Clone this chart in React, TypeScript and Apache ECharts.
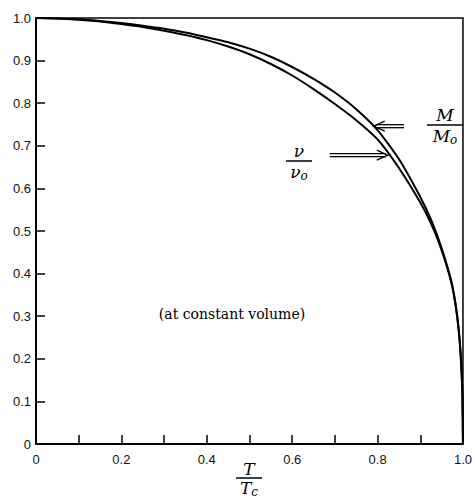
import React, { useEffect, useRef } from "react";
import * as echarts from "echarts";

const tempRatio = [0, 0.05, 0.1, 0.15, 0.2, 0.25, 0.3, 0.35, 0.4, 0.45, 0.5, 0.55, 0.6, 0.65, 0.7, 0.75, 0.8, 0.85, 0.9, 0.925, 0.95, 0.975, 0.99, 0.998, 1.0];
const magnetization = [1.0, 0.999, 0.997, 0.993, 0.988, 0.982, 0.975, 0.966, 0.955, 0.943, 0.928, 0.909, 0.885, 0.857, 0.825, 0.786, 0.737, 0.669, 0.58, 0.527, 0.46, 0.372, 0.27, 0.14, 0];
const frequency = [1.0, 0.999, 0.996, 0.992, 0.986, 0.979, 0.97, 0.96, 0.948, 0.933, 0.915, 0.892, 0.865, 0.833, 0.798, 0.76, 0.715, 0.648, 0.567, 0.518, 0.455, 0.369, 0.266, 0.14, 0];

// arrow annotations: [tailX, tipX, y] in data units
const mArrow = [0.862, 0.791, 0.746];
const nuArrow = [0.688, 0.824, 0.678];

export default function App() {
  const ref = useRef<HTMLDivElement>(null);
  useEffect(() => {
    if (!ref.current) return;
    const chart = echarts.init(ref.current, null, { renderer: "svg" });
    const lbl = (v: number) => {
      const r = Math.round(v * 10);
      if (r === 0) return "0";
      return (r / 10).toFixed(1);
    };
    const sans = "Liberation Sans";
    chart.setOption({
      animation: false,
      backgroundColor: "#fff",
      grid: {
        left: 36, right: 4, top: 18, bottom: 58,
        show: true, borderColor: "#000", borderWidth: 1.5, backgroundColor: "transparent",
      },
      xAxis: {
        type: "value", min: 0, max: 1, interval: 0.1,
        splitLine: { show: false },
        axisLine: { lineStyle: { color: "#000", width: 2 } },
        axisTick: { inside: true, length: 9, lineStyle: { color: "#000", width: 1.5 } },
        axisLabel: {
          color: "#111", fontSize: 13, fontFamily: sans, margin: 9,
          formatter: (v: number) => { const r = Math.round(v * 10); return r % 2 === 0 ? lbl(v) : ""; },
        },
      },
      yAxis: {
        type: "value", min: 0, max: 1, interval: 0.1,
        splitLine: { show: false },
        axisLine: { lineStyle: { color: "#000", width: 2 } },
        axisTick: { inside: true, length: 9, lineStyle: { color: "#000", width: 1.5 } },
        axisLabel: {
          color: "#111", fontSize: 13, fontFamily: sans, margin: 5,
          formatter: lbl,
        },
      },
      series: [
        {
          name: "M/Mo", type: "line", smooth: 0.2, symbol: "none",
          data: tempRatio.map((t, i) => [t, magnetization[i]]),
          lineStyle: { color: "#000", width: 2 },
        },
        {
          name: "nu/nuo", type: "line", smooth: 0.2, symbol: "none",
          data: tempRatio.map((t, i) => [t, frequency[i]]),
          lineStyle: { color: "#000", width: 2 },
        },
      ],
    });

    const px = (x: number, y: number) => chart.convertToPixel({ gridIndex: 0 }, [x, y]) as number[];
    const arrow = (a: number[]) => {
      const tail = px(a[0], a[2]);
      const tip = px(a[1], a[2]);
      const dir = Math.sign(tip[0] - tail[0]);
      const st = { stroke: "#000", lineWidth: 1.3 };
      return [
        { type: "line", shape: { x1: tail[0], y1: tip[1] - 1.5, x2: tip[0] - dir * 2, y2: tip[1] - 1.5 }, style: st },
        { type: "line", shape: { x1: tail[0], y1: tip[1] + 1.5, x2: tip[0] - dir * 2, y2: tip[1] + 1.5 }, style: st },
        { type: "polyline", shape: { points: [[tip[0] - dir * 11, tip[1] - 5], [tip[0], tip[1]], [tip[0] - dir * 11, tip[1] + 5]] }, style: { ...st, fill: "none" } },
      ];
    };
    const frac = (cx: number, cy: number, num: any, den: any, w: number, gap = 10) => [
      { type: "text", x: cx, y: cy - gap, style: { ...num, align: "center", verticalAlign: "middle" } },
      { type: "line", shape: { x1: cx - w / 2, y1: cy, x2: cx + w / 2, y2: cy }, style: { stroke: "#000", lineWidth: 1.5 } },
      { type: "text", x: cx, y: cy + gap + 1, style: { ...den, align: "center", verticalAlign: "middle" } },
    ];
    const it = { font: "italic 17px 'DejaVu Serif'", fill: "#000" };
    const sub = { font: "italic 12px 'DejaVu Serif'", fill: "#000", padding: [8, 0, 0, 0] };

    chart.setOption({
      graphic: [
        ...arrow(mArrow),
        ...arrow(nuArrow),
        ...frac(445, 125, { text: "M", ...it }, { text: "{a|M}{b|o}", ...it, rich: { a: it, b: sub } }, 36),
        ...frac(299, 161, { text: "ν", ...it }, { text: "{a|ν}{b|o}", ...it, rich: { a: it, b: sub } }, 26),
        ...frac(249, 478, { text: "T", ...it }, { text: "{a|T}{b|c}", ...it, rich: { a: it, b: sub } }, 26, 9),
        { type: "text", x: 232, y: 314, style: { text: "(at constant volume)", font: "14px 'DejaVu Serif'", fill: "#000", align: "center", verticalAlign: "middle" } },
      ],
    });
    return () => chart.dispose();
  }, []);
  return <div ref={ref} style={{ width: 475, height: 502, position: "absolute", left: 0, top: 0 }} />;
}
